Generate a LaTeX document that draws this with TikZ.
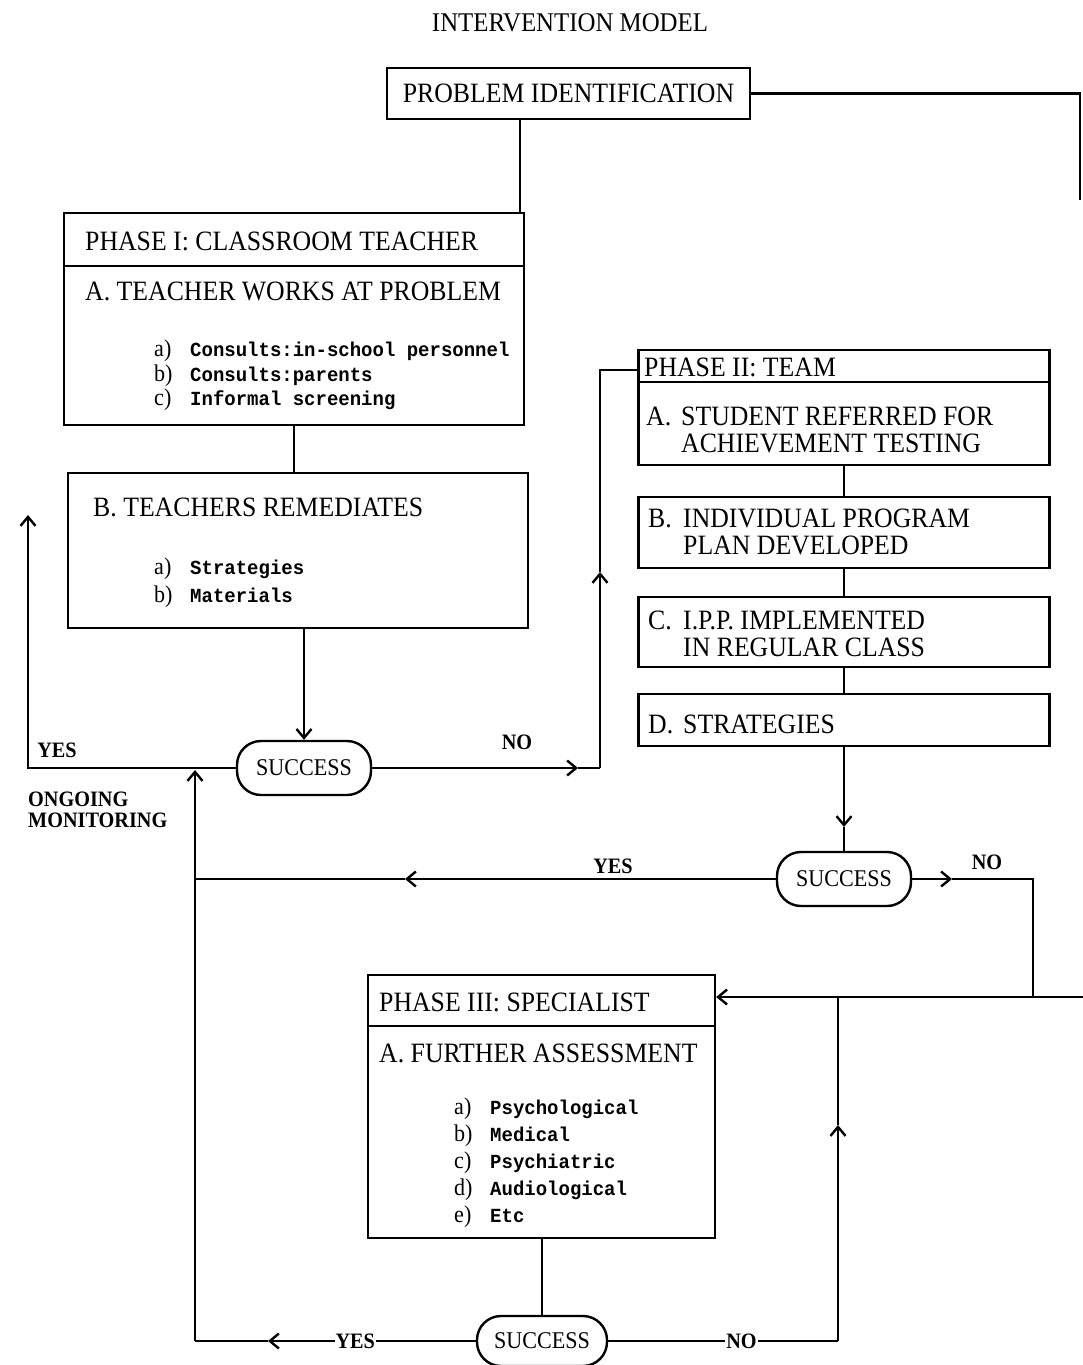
\documentclass[tikz,border=0pt]{standalone}
\usepackage{fontspec}
\setmainfont{Liberation Serif}[FakeStretch=0.92]
\newfontfamily\itemfont{Liberation Mono}[FakeStretch=0.95]
\usetikzlibrary{arrows.meta}
\newcommand\itemlead[1]{\makebox[35pt][l]{#1}}
\newcommand\itemkey[1]{\makebox[36pt][l]{\fontsize{24}{24}\selectfont #1}}
\tikzset{
  box/.style={draw, line width=2.4pt, inner sep=0pt},
  hd/.style={anchor=west, inner sep=0pt, font=\fontsize{28}{25}\selectfont},
  items/.style={anchor=north west, inner sep=0pt, align=left, font=\fontsize{20}{#1pt}\selectfont},
  succ/.style={draw, line width=2.4pt, rounded corners=24pt, minimum width=134pt, minimum height=54pt, inner sep=0pt, font=\fontsize{24}{26}\selectfont},
  lbl/.style={inner sep=1pt, font=\fontsize{22}{24}\selectfont\bfseries},
}
\begin{document}
\begin{tikzpicture}[x=1pt,y=-1pt,line width=2.4pt,>={Straight Barb[length=9pt,width=15pt]}]
      \useasboundingbox (0,0) rectangle (1083,1365);
      \node[font=\fontsize{27}{29}\selectfont] (title) at (570,23) {INTERVENTION MODEL};
      \node[box, minimum width=363pt, minimum height=51pt, font=\fontsize{28}{30}\selectfont] (pi) at (568.5,93.5) {PROBLEM IDENTIFICATION};
      \node[box, minimum width=460pt, minimum height=212pt] (p1) at (294,319) {};
      \node[hd] (p1h) at (84,241) {PHASE I: CLASSROOM TEACHER};
      \node[hd] (p1a) at (84,291) {A. TEACHER WORKS AT PROBLEM};
      \node[items=24.5] (p1i) at (153,339) {\itemkey{a)}{\itemfont\bfseries Consults:in-school personnel}\\\itemkey{b)}{\itemfont\bfseries Consults:parents}\\\itemkey{c)}{\itemfont\bfseries Informal screening}};
      \node[box, minimum width=460pt, minimum height=155pt] (b1) at (298,550.5) {};
      \node[hd] (b1h) at (92,507) {B. TEACHERS REMEDIATES};
      \node[items=28] (b1i) at (153,557) {\itemkey{a)}{\itemfont\bfseries Strategies}\\\itemkey{b)}{\itemfont\bfseries Materials}};
      \node[succ] (s1) at (304,768) {SUCCESS};
      \node[box, minimum width=411pt, minimum height=115pt] (p2) at (844,407.5) {};
      \node[hd] (p2h) at (643,367) {PHASE II: TEAM};
      \node[hd] (p2a) at (645,416) {\itemlead{A.}STUDENT REFERRED FOR};
      \node[hd] (p2b) at (680,443) {ACHIEVEMENT TESTING};
      \node[box, minimum width=411pt, minimum height=71pt] (b2) at (844,532.5) {};
      \node[hd] (b2a) at (647,518) {\itemlead{B.}INDIVIDUAL PROGRAM};
      \node[hd] (b2b) at (682,545) {PLAN DEVELOPED};
      \node[box, minimum width=411pt, minimum height=70pt] (c2) at (844,632) {};
      \node[hd] (c2a) at (647,620) {\itemlead{C.}I.P.P. IMPLEMENTED};
      \node[hd] (c2b) at (682,647) {IN REGULAR CLASS};
      \node[box, minimum width=411pt, minimum height=52pt] (d2) at (844,720) {};
      \node[hd] (d2a) at (647,724) {\itemlead{D.}STRATEGIES};
      \node[succ] (s2) at (844,879) {SUCCESS};
      \node[box, minimum width=347pt, minimum height=263pt] (p3) at (541.5,1106.5) {};
      \node[hd] (p3h) at (378,1002) {PHASE III: SPECIALIST};
      \node[hd] (p3a) at (378,1053) {A. FURTHER ASSESSMENT};
      \node[items=27] (p3i) at (453,1097) {\itemkey{a)}{\itemfont\bfseries Psychological}\\\itemkey{b)}{\itemfont\bfseries Medical}\\\itemkey{c)}{\itemfont\bfseries Psychiatric}\\\itemkey{d)}{\itemfont\bfseries Audiological}\\\itemkey{e)}{\itemfont\bfseries Etc}};
      \node[succ, minimum width=130pt, minimum height=50pt] (s3) at (542,1341) {SUCCESS};
      \node[lbl] (y1) at (57,750) {YES};
      \node[lbl] (n1) at (517,742) {NO};
      \node[lbl, anchor=west, align=left, font=\fontsize{22}{21}\selectfont\bfseries] (mon) at (26,810) {ONGOING\\MONITORING};
      \node[lbl] (y2) at (613,866) {YES};
      \node[lbl] (n2) at (987,862) {NO};
      \coordinate (k0) at (520,213);
      \coordinate (r1) at (1080,200);
      \coordinate (r2) at (1083,997);
      \coordinate (u1) at (28,515);
      \coordinate (a1) at (578,768);
      \coordinate (k1) at (600,768);
      \coordinate (a2) at (600,572);
      \coordinate (k2) at (600,370);
      \coordinate (a3) at (844,827);
      \coordinate (a4) at (405,879);
      \coordinate (k3) at (195,879);
      \coordinate (k4) at (195,770);
      \coordinate (k5) at (195,1341);
      \coordinate (a5) at (268,1341);
      \coordinate (a6) at (952,879);
      \coordinate (k6) at (1033,879);
      \coordinate (k7) at (1033,997);
      \coordinate (k8) at (838,1341);
      \coordinate (a7) at (838,1125);
      \coordinate (k9) at (838,997);
      \begin{scope}[line width=2pt]
        \draw ([yshift=-54pt]p1.north west) -- ([yshift=-54pt]p1.north east);
        \draw ([yshift=-33pt]p2.north west) -- ([yshift=-33pt]p2.north east);
        \draw ([yshift=-52pt]p3.north west) -- ([yshift=-52pt]p3.north east);
      \end{scope}
      \begin{scope}[-]
        \draw (pi.east) -| (r1);
        \draw (pi.south -| k0) -- (k0);
        \draw (p1.south) -- (p1.south |- b1.north);
        \draw[->] (b1.south -| s1.north) -- (s1.north);
        \draw[->] (s1.west) -| (u1);
        \draw[->] (s1.east) -- (a1);
        \draw (a1) -- (k1);
        \draw[->] (k1) -- (a2);
        \draw (a2) -- (k2) -- (k2 -| p2.west);
        \draw (p2.south) -- (b2.north);
        \draw (b2.south) -- (c2.north);
        \draw (c2.south) -- (d2.north);
        \draw[->] (d2.south) -- (a3);
        \draw (a3) -- (s2.north);
        \draw[->] (s2.west) -- (a4);
        \draw (a4) -- (k3);
        \draw[->] (k5) -- (k4);
        \draw[->] (s2.east) -- (a6);
        \draw (a6) -- (k6) -- (k7);
        \draw[->] (r2) -- (r2 -| p3.east);
        \draw (p3.south -| s3.north) -- (s3.north);
        \draw[->] (s3.west) -- node[lbl, fill=white, pos=0.58] (y3) {YES} (a5);
        \draw (a5) -- (k5);
        \draw (s3.east) -- node[lbl, fill=white, pos=0.58] (n3) {NO} (k8);
        \draw[->] (k8) -- (a7);
        \draw (a7) -- (k9);
      \end{scope}
    \end{tikzpicture}
\end{document}
